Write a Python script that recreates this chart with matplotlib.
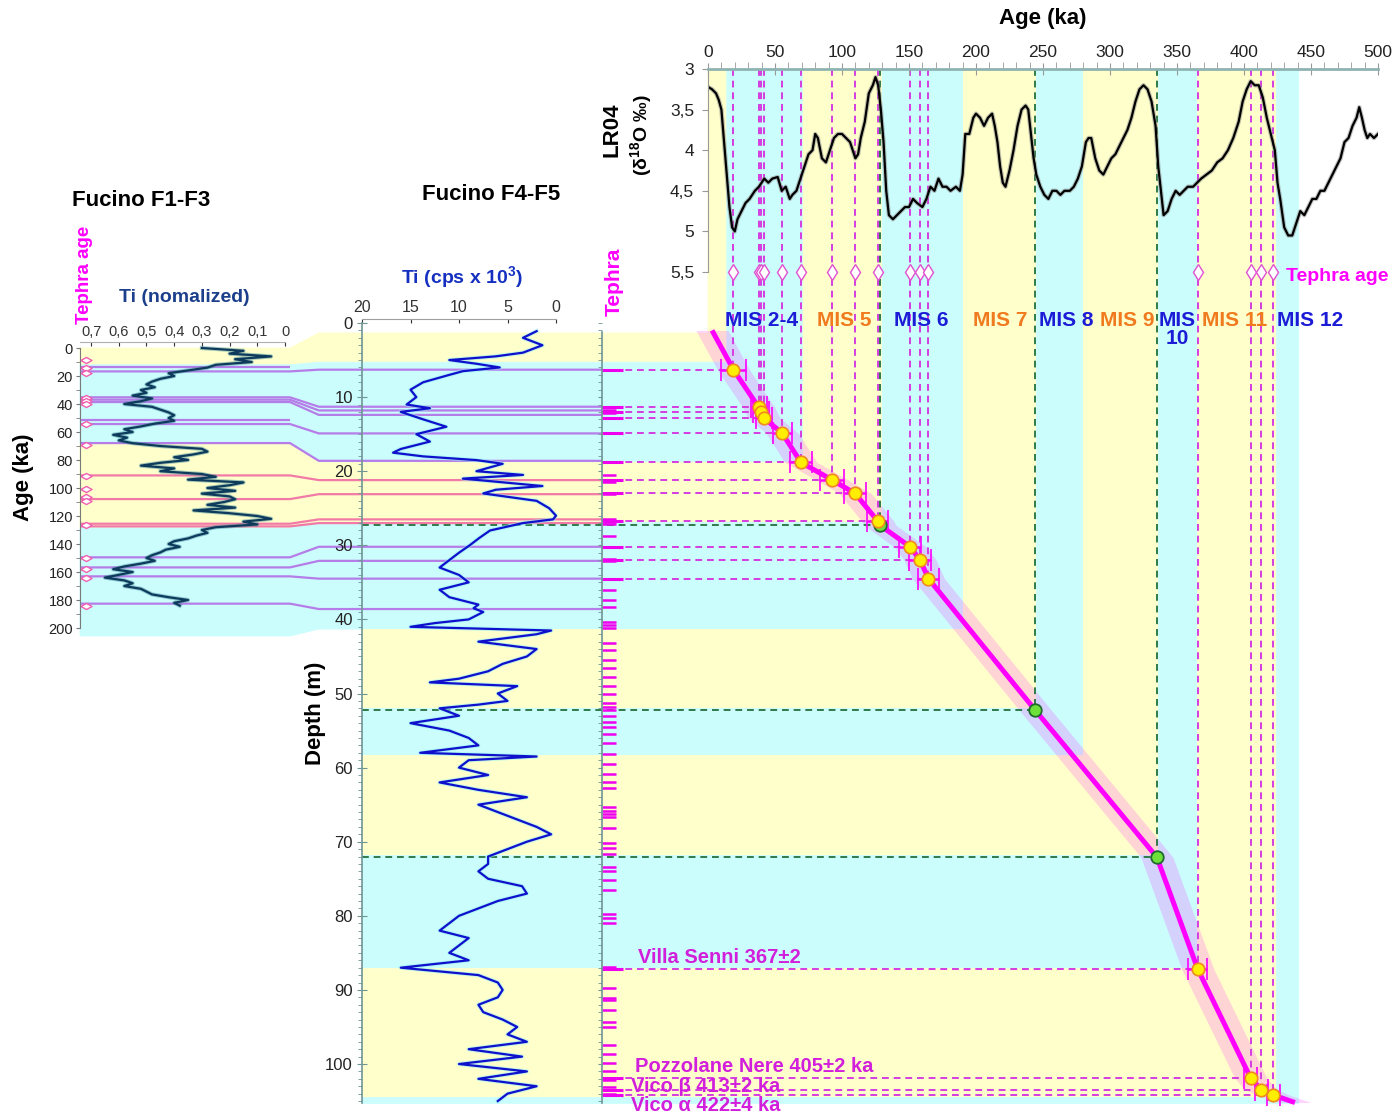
import numpy as np
import matplotlib
matplotlib.use("Agg")
import matplotlib.pyplot as plt
from matplotlib import transforms
from matplotlib.patches import Polygon
from matplotlib.ticker import MultipleLocator

plt.rcParams['font.family'] = ['Liberation Sans', 'DejaVu Sans']
plt.rcParams['mathtext.default'] = 'regular'
NARROW = ['Liberation Sans Narrow', 'Liberation Sans', 'DejaVu Sans']

W, H = 1397, 1115

# ---------------- data ----------------
# LR04 benthic stack
lr04_age = [0, 3, 6, 8, 10, 12, 14, 16, 18, 20, 22, 25, 28, 31, 35, 38, 42, 45, 48, 52, 55, 58, 61, 63, 66,
            70, 72, 75, 78, 80, 82, 85, 88, 91, 94, 97, 100, 103, 106, 108, 110, 112, 114, 117, 120, 123,
            125, 127, 129, 131, 133, 135, 138, 141, 144, 147, 150, 153, 156, 160, 163, 166, 169, 172, 175,
            178, 181, 185, 188, 190, 192, 195, 198, 200, 203, 206, 209, 212, 214, 216, 218, 220, 222, 225,
            228, 231, 234, 237, 239, 241, 243, 245, 248, 251, 254, 257, 260, 263, 266, 270, 273, 276, 279,
            282, 284, 286, 289, 292, 295, 298, 301, 304, 307, 310, 313, 316, 319, 322, 325, 328, 331, 334,
            336, 338, 340, 343, 346, 349, 352, 355, 358, 362, 365, 368, 372, 376, 380, 384, 388, 392, 396,
            399, 402, 405, 408, 411, 414, 417, 420, 423, 425, 427, 430, 433, 436, 439, 442, 445, 448, 451,
            454, 457, 460, 463, 466, 469, 472, 475, 478, 481, 484, 486, 488, 490, 492, 494, 497, 500]
lr04_d18o = [3.22, 3.25, 3.3, 3.38, 3.5, 3.9, 4.3, 4.7, 4.95, 5.0, 4.85, 4.75, 4.65, 4.6, 4.5, 4.45, 4.35,
             4.4, 4.35, 4.33, 4.5, 4.45, 4.6, 4.55, 4.5, 4.3, 4.2, 4.05, 4.0, 3.8, 3.85, 4.1, 4.15, 4.0,
             3.85, 3.8, 3.8, 3.85, 3.9, 4.0, 4.1, 4.05, 3.85, 3.65, 3.3, 3.2, 3.1, 3.2, 3.5, 3.9, 4.5, 4.8,
             4.85, 4.8, 4.75, 4.7, 4.7, 4.6, 4.65, 4.7, 4.6, 4.45, 4.5, 4.35, 4.45, 4.45, 4.5, 4.45, 4.5,
             4.3, 3.8, 3.8, 3.6, 3.55, 3.6, 3.7, 3.6, 3.55, 3.7, 3.9, 4.2, 4.4, 4.45, 4.25, 4.0, 3.7, 3.5,
             3.45, 3.5, 3.8, 4.1, 4.3, 4.45, 4.55, 4.6, 4.5, 4.5, 4.55, 4.5, 4.5, 4.45, 4.35, 4.2, 3.9,
             3.85, 3.85, 4.1, 4.25, 4.3, 4.2, 4.1, 4.05, 3.95, 3.85, 3.75, 3.6, 3.4, 3.25, 3.2, 3.25, 3.4,
             3.7, 4.2, 4.5, 4.8, 4.75, 4.6, 4.5, 4.55, 4.5, 4.45, 4.45, 4.4, 4.35, 4.3, 4.25, 4.15, 4.1,
             4.0, 3.85, 3.65, 3.4, 3.25, 3.15, 3.2, 3.2, 3.35, 3.6, 3.8, 4.0, 4.4, 4.6, 4.95, 5.05, 5.05,
             4.9, 4.75, 4.8, 4.7, 4.6, 4.6, 4.5, 4.5, 4.4, 4.3, 4.2, 4.1, 3.9, 3.85, 3.7, 3.6, 3.47, 3.6,
             3.75, 3.85, 3.8, 3.85, 3.8]

# Marine isotope stages: age range (ka), depth range in F4-F5 (m), F1-F3 age range
mis_age = [(0, 14), (14, 71), (71, 130), (130, 190), (190, 245), (245, 280), (280, 336), (336, 365),
           (365, 424), (424, 440)]
mis_depth = [(1.35, 5.3), (5.3, 18.8), (18.8, 26.9), (26.9, 41.3), (41.3, 52.0), (52.0, 58.3),
             (58.3, 71.8), (71.8, 87.0), (87.0, 104.4), (104.4, 105.26)]
mis_warm = [True, False, True, False, True, False, True, False, True, False]
f13_band_age = [(0, 12), (12, 68), (68, 128.5), (128.5, 205.7)]
mis_label = ['MIS 2-4', 'MIS 5', 'MIS 6', 'MIS 7', 'MIS 8', 'MIS 9', 'MIS\n10', 'MIS 11', 'MIS 12']
mis_label_age = [40, 102, 159, 218, 267, 313, 350, 393, 449]
mis_label_warm = [False, True, False, True, False, True, False, True, False]

# tephra ties (age ka, depth m, 1 sigma drawn)
tie_age = [19, 37.9, 39.8, 41.7, 55.5, 69.3, 92.8, 109.8, 126.5, 150.8, 158.3, 164.5, 365.5, 405, 413, 422]
tie_depth = [6.3, 11.4, 12.0, 12.8, 14.9, 18.8, 21.2, 23.0, 26.7, 30.2, 32.0, 34.5, 87.2, 101.9, 103.5, 104.2]
tie_err = [9, 6, 6, 6, 7, 8, 9, 8, 8, 8, 8, 8, 7, 5, 5, 5]
# LR04 tie points
lr_tie_age = [128.4, 244, 335]
lr_tie_depth = [27.3, 52.2, 72.1]
# age-depth model
model_age = [3, 19, 37.9, 41.7, 55.5, 69.3, 92.8, 109.8, 126.5, 128.4, 150.8, 158.3, 164.5, 244, 335,
             365.5, 405, 413, 422, 438]
model_depth = [1.0, 6.3, 11.4, 12.8, 14.9, 18.8, 21.2, 23.0, 26.7, 27.3, 30.2, 32.0, 34.5, 52.2, 72.1,
               87.2, 101.9, 103.5, 104.2, 105.2]
tephra_names = ['Villa Senni 367±2', 'Pozzolane Nere 405±2 ka', 'Vico β 413±2 ka', 'Vico α 422±4 ka']
tephra_name_depth = [85.6, 100.4, 103.0, 105.6]

# tephra layers in F4-F5 (depth m)
tephra_layers = [6.3, 11.3, 11.7, 12.2, 12.8, 14.9, 18.8, 20.5, 21.2, 21.5, 23.1, 26.5, 26.8, 27.1, 28.8,
                 30.2, 31.8, 32.1, 34.5, 36.0, 37.4, 38.3, 40.3, 40.8, 41.2, 43.2, 44.1, 45.5, 46.6, 47.8,
                 49.0, 50.0, 51.3, 51.8, 52.2, 53.1, 53.8, 54.5, 55.4, 56.7, 58.1, 59.5, 60.8, 61.9, 62.8,
                 65.3, 65.8, 66.3, 66.6, 68.2, 70.2, 70.9, 71.6, 73.4, 74.0, 75.2, 76.5, 79.7, 80.3, 81.0,
                 86.9, 87.2, 89.8, 91.1, 91.4, 92.7, 94.3, 95.0, 97.4, 98.6, 99.9, 101.0, 101.9, 102.2,
                 103.1, 103.5, 104.0, 104.2]

# F1-F3 tephra correlations (F1-F3 age ka -> F4-F5 depth m)
f13_tie_age = [13.8, 16.7, 35.2, 36.9, 38.6, 51.2, 54.3, 67.9, 91.0, 107.9, 125.5, 127.4, 149.5, 156.7,
               163.1, 182.6]
f13_tie_depth = [np.nan, 6.3, 11.3, 11.8, 12.4, np.nan, 14.9, 18.6, 21.2, 23.1, 26.5, 27.0, 30.2, 32.1,
                 34.5, 38.6]
f13_tephra_age = [8.6, 14, 17.5, 36, 38, 40, 54.5, 69, 91.5, 100.5, 106.5, 109, 126.5, 150, 157.5,
                  164.5, 184]

# Ti normalized, F1-F3
f13_age = list(range(0, 186, 2))
f13_ti = [0.30, 0.15, 0.20, 0.05, 0.18, 0.12, 0.25, 0.28, 0.35, 0.42, 0.40, 0.45, 0.48, 0.50, 0.47, 0.52,
          0.50, 0.55, 0.48, 0.52, 0.58, 0.48, 0.45, 0.42, 0.40, 0.42, 0.40, 0.47, 0.52, 0.58, 0.55, 0.62,
          0.57, 0.60, 0.55, 0.45, 0.30, 0.28, 0.33, 0.40, 0.35, 0.45, 0.52, 0.40, 0.45, 0.30, 0.25, 0.35,
          0.15, 0.20, 0.28, 0.18, 0.30, 0.20, 0.18, 0.22, 0.28, 0.18, 0.33, 0.20, 0.10, 0.05, 0.15, 0.10,
          0.25, 0.30, 0.28, 0.32, 0.35, 0.40, 0.42, 0.38, 0.43, 0.45, 0.48, 0.50, 0.47, 0.52, 0.58, 0.62,
          0.55, 0.60, 0.65, 0.58, 0.55, 0.58, 0.52, 0.50, 0.48, 0.42, 0.35, 0.40, 0.38]

# Ti counts (cps x 10^3), F4-F5
f45_depth = [1.1, 2, 3, 4, 4.5, 5, 5.5, 6, 6.5, 7, 8, 9, 10, 11, 11.5, 12, 13, 14, 15, 16, 17, 17.5, 18,
             18.5, 19, 20, 20.5, 21, 22, 22.5, 23, 24, 25, 26, 26.5, 27, 28, 29, 30, 31, 32, 33, 34, 35,
             36, 37, 38, 38.5, 39, 40, 40.5, 41, 41.5, 42, 43, 44, 45, 46, 47, 48, 48.5, 49, 50, 51, 51.5,
             52, 53, 54, 55, 56, 57, 58, 58.5, 59, 60, 61, 62, 63, 64, 65, 66, 67, 68, 69, 70, 71, 72, 73,
             74, 75, 76, 77, 78, 79, 80, 81, 82, 83, 84, 85, 86, 87, 88, 89, 90, 91, 92, 93, 94, 95, 96,
             97, 98, 99, 100, 101, 102, 103, 104, 105]
f45_ti = [2.0, 3.4, 1.4, 3.4, 6.2, 11.0, 8.2, 5.8, 9.6, 11.0, 13.7, 15.0, 14.4, 15.4, 13.0, 16.0, 13.7,
          11.3, 14.4, 13.0, 16.0, 16.8, 13.7, 8.2, 5.5, 8.2, 3.4, 9.6, 1.4, 6.2, 7.5, 2.0, 0.7, 0.0, 0.3,
          3.4, 6.8, 7.9, 8.9, 10.0, 11.0, 12.0, 10.0, 9.0, 12.0, 11.0, 8.0, 8.5, 7.5, 9.0, 12.5, 15.0, 0.5,
          2.0, 8.0, 2.0, 3.0, 5.5, 7.0, 10.0, 13.0, 4.0, 6.0, 5.0, 8.0, 12.0, 10.0, 15.0, 11.0, 9.0, 8.0,
          14.0, 2.0, 9.0, 10.0, 7.0, 12.0, 8.0, 3.0, 8.0, 6.0, 4.0, 2.0, 0.5, 3.0, 5.0, 7.0, 7.0, 8.0,
          7.0, 3.5, 3.0, 6.0, 8.0, 10.0, 11.0, 12.0, 9.0, 10.0, 11.0, 9.0, 16.0, 8.0, 6.0, 5.5, 6.0, 8.0,
          7.5, 5.5, 4.0, 5.0, 3.0, 9.0, 3.5, 10.0, 3.0, 8.0, 2.0, 5.0, 6.0]

# ---------------- colours ----------------
YEL = '#ffffcc'
CYA = '#ccfdfd'
MAG = '#ff00ff'
DASH_MAG = '#d43de0'
LILAC = '#b57de8'
PINK = '#f27aa6'
GREEN_D = '#2f7a4a'
BLUE_T = '#1c1cd6'
ORANGE_T = '#f07a1e'
SPINE = '#6f9595'

fig = plt.figure(figsize=(W / 100, H / 100), dpi=100)
fig.patch.set_facecolor('white')


def px_axes(l, t, r, b):
    ax = fig.add_axes([l / W, 1 - b / H, (r - l) / W, (b - t) / H])
    ax.patch.set_visible(False)
    return ax


def px(x, y):
    return x / W, 1 - y / H


ax_bg = fig.add_axes([0, 0, 1, 1])
ax_bg.set_xlim(0, W)
ax_bg.set_ylim(0, H)
ax_bg.axis('off')
ax_bg.set_zorder(0)

ax_left = px_axes(80, 342, 290, 636)
ax_mid = px_axes(362, 323, 556, 1103)
ax_teph = px_axes(602, 323, 708, 1103)
ax_ad = px_axes(708, 323, 1378, 1103)
ax_top = px_axes(708, 69, 1378, 323)
ax_left.set_zorder(1)
ax_ad.set_zorder(2)
ax_top.set_zorder(3)
ax_mid.set_zorder(4)
ax_teph.set_zorder(4)

DMAX = 105.26
ax_left.set_xlim(0.74, -0.018)
ax_left.set_ylim(205.7, -4.3)
ax_mid.set_xlim(20, 0)
ax_mid.set_ylim(DMAX, 0)
ax_teph.set_xlim(0, 1)
ax_teph.set_ylim(DMAX, 0)
ax_ad.set_xlim(0, 500)
ax_ad.set_ylim(DMAX, 0)
ax_top.set_xlim(0, 500)
ax_top.set_ylim(6.128, 3)

# ---------------- shaded stages (drawn across panels) ----------------
Lb = transforms.blended_transform_factory(ax_left.transAxes, ax_left.transData)
Mb = transforms.blended_transform_factory(ax_mid.transAxes, ax_mid.transData)
Tb = transforms.blended_transform_factory(ax_top.transData, ax_top.transAxes)
AD = ax_ad.transData
to_bg = ax_bg.transData.inverted()

x_lr = Lb.transform((1, 0))[0]
x_ml = Mb.transform((0, 0))[0]
x_s = x_lr + 0.4 * (x_ml - x_lr)
x_col = ax_teph.transAxes.transform((0, 0))[0]


def mid_y(d):
    return Mb.transform((0, d))[1]


for i, ((a1, a2), (d1, d2), warm) in enumerate(zip(mis_age, mis_depth, mis_warm)):
    col = YEL if warm else CYA
    pts = []
    if i < len(f13_band_age):
        L1, L2 = f13_band_age[i]
        pts += [Lb.transform((0, L1)), Lb.transform((1, L1)), (x_s, mid_y(d1))]
    else:
        pts.append(Mb.transform((0, d1)))
    pts += [AD.transform((a1, d1)), Tb.transform((a1, 1)), Tb.transform((a2, 1)), AD.transform((a2, d2))]
    if i < len(f13_band_age):
        pts += [(x_s, mid_y(d2)), Lb.transform((1, L2)), Lb.transform((0, L2))]
    else:
        pts.append(Mb.transform((0, d2)))
    ax_bg.add_patch(Polygon(to_bg.transform(np.array(pts)), closed=True, fc=col, ec=col, lw=0.6))

# F1-F3 -> F4-F5 tephra correlation lines
for a, d in zip(f13_tie_age, f13_tie_depth):
    warm = any(lo <= a <= hi for (lo, hi), w in zip(f13_band_age, mis_warm) if w)
    pts = [Lb.transform((0, a)), Lb.transform((1, a))]
    if not np.isnan(d):
        pts += [(x_s, mid_y(d)), (x_col, mid_y(d))]
    p = to_bg.transform(np.array(pts))
    ax_bg.plot(p[:, 0], p[:, 1], color=PINK if warm else LILAC, lw=1.6, solid_capstyle='butt')

# ---------------- left panel: Fucino F1-F3 ----------------
ax_left.plot(f13_ti, f13_age, color='#3c8a9a', lw=3.0, alpha=0.45)
ax_left.plot(f13_ti, f13_age, color='#0e3a5c', lw=1.6)
diamond = [(-1, 0), (0, 0.55), (1, 0), (0, -0.55), (-1, 0)]
ax_left.plot([0.72] * len(f13_tephra_age), f13_tephra_age, ls='none', marker=diamond, ms=8,
             mfc='white', mec='#f060b0', mew=1.0)
for s in ['right', 'bottom']:
    ax_left.spines[s].set_visible(False)
ax_left.spines['left'].set_bounds(0, 200)
ax_left.spines['left'].set_color('#7a7a7a')
ax_left.spines['top'].set_bounds(0.74, 0)
ax_left.spines['top'].set_color('#b0b0b0')
ax_left.xaxis.tick_top()
ax_left.set_xticks(np.arange(0, 0.71, 0.1))
ax_left.set_xticklabels(['0' if v == 0 else f'{v:.1f}'.replace('.', ',') for v in np.arange(0, 0.71, 0.1)])
ax_left.set_yticks(range(0, 201, 20))
ax_left.yaxis.set_minor_locator(MultipleLocator(10))
ax_left.tick_params(axis='x', direction='in', length=3, labelsize=10.5, pad=2, colors='#333333')
ax_left.tick_params(axis='y', which='both', direction='out', length=3, labelsize=10.5, pad=2,
                    color='#7a7a7a', labelcolor='#222222')
ax_left.text(-0.27, 0.54, 'Age (ka)', transform=ax_left.transAxes, rotation=90, ha='center', va='center',
             fontsize=16, fontweight='bold')
ax_left.text(0.02, 1.23, 'Tephra age', transform=ax_left.transAxes, rotation=90, ha='center',
             va='center', fontsize=13.5, fontweight='bold', color=MAG)
ax_left.text(0.495, 1.153, 'Ti (nomalized)', transform=ax_left.transAxes, ha='center', va='center',
             fontsize=14, fontweight='bold', color='#1c3f8c')
fig.text(*px(72, 200), 'Fucino F1-F3', ha='left', va='center', fontsize=16, fontweight='bold')

# ---------------- middle panel: Fucino F4-F5 ----------------
ax_mid.plot(f45_ti, f45_depth, color='#8ff0f5', lw=3, alpha=0.55, clip_on=False)
ax_mid.plot(f45_ti, f45_depth, color='#1010cc', lw=1.6, clip_on=False)
for s in ['right', 'bottom']:
    ax_mid.spines[s].set_visible(False)
ax_mid.spines['left'].set_color(SPINE)
ax_mid.spines['left'].set_linewidth(1.2)
ax_mid.spines['top'].set_position(('outward', 3))
ax_mid.spines['top'].set_bounds(20, 0)
ax_mid.spines['top'].set_color('#a0a0a0')
ax_mid.xaxis.tick_top()
ax_mid.set_xticks([20, 15, 10, 5, 0])
ax_mid.set_yticks(range(0, 101, 10))
ax_mid.yaxis.set_minor_locator(MultipleLocator(1))
ax_mid.tick_params(axis='x', direction='in', length=3, labelsize=11.5, pad=3, colors='#333333')
ax_mid.tick_params(axis='y', which='major', direction='inout', length=7, labelsize=12, pad=3,
                   color=SPINE, labelcolor='#222222')
ax_mid.tick_params(axis='y', which='minor', direction='out', length=3, color=SPINE)
ax_mid.text(-0.24, 0.5, 'Depth (m)', transform=ax_mid.transAxes, rotation=90, ha='center', va='center',
            fontsize=16, fontweight='bold')
fig.text(*px(462, 277), 'Ti (cps x 10$^3$)', ha='center', va='center', fontsize=14, fontweight='bold',
         color='#1530c0')
fig.text(*px(422, 194), 'Fucino F4-F5', ha='left', va='center', fontsize=16, fontweight='bold')

# tephra column
ax_teph.hlines(tephra_layers, 0, 0.13, color='#ee00ee', lw=1.8)
ax_teph.hlines(tie_depth, 0, 0.2, color='#ee00ee', lw=2.2)
for s in ['right', 'bottom', 'top']:
    ax_teph.spines[s].set_visible(False)
ax_teph.spines['left'].set_bounds(1.2, DMAX)
ax_teph.spines['left'].set_color(SPINE)
ax_teph.spines['left'].set_linewidth(1.2)
ax_teph.set_xticks([])
ax_teph.set_yticks(range(10, 101, 10))
ax_teph.set_yticklabels([])
ax_teph.yaxis.set_minor_locator(MultipleLocator(1))
ax_teph.tick_params(axis='y', which='both', direction='out', length=3, color=SPINE)
fig.text(*px(614, 282), 'Tephra', rotation=90, ha='center', va='center', fontsize=15, fontweight='bold',
         color=MAG)

# ---------------- age-depth model ----------------
ax_ad.axis('off')
depth_top = AD.inverted().transform(Tb.transform((0, 1)))[1]
dash = (0, (3.5, 2.5))
ax_ad.vlines(tie_age, depth_top, tie_depth, colors=DASH_MAG, lw=1.4, linestyles=dash, clip_on=False)
col_age = AD.inverted().transform((x_col, 0))[0]
ax_ad.hlines(tie_depth, col_age, tie_age, colors=DASH_MAG, lw=1.4, linestyles=dash, clip_on=False)
ax_ad.vlines(lr_tie_age, depth_top, lr_tie_depth, colors=GREEN_D, lw=1.4, linestyles=dash, clip_on=False)
mid_age = AD.inverted().transform((x_ml, 0))[0]
ax_ad.hlines(lr_tie_depth, mid_age, lr_tie_age, colors=GREEN_D, lw=1.4, linestyles=dash, clip_on=False)

m_age = np.array(model_age)
ax_ad.fill_betweenx(model_depth, m_age - 12, m_age + 12, color=MAG, alpha=0.17, lw=0, clip_on=False)
ax_ad.plot(model_age, model_depth, color=MAG, lw=3.6, clip_on=False, solid_capstyle='butt')
ax_ad.errorbar(tie_age, tie_depth, xerr=tie_err, fmt='o', ms=9, mfc='#ffee00', mec='#f08a20', mew=1.2,
               ecolor=MAG, elinewidth=1.8, capsize=8, capthick=1.8, clip_on=False, zorder=5)
ax_ad.plot(lr_tie_age, lr_tie_depth, 'o', ms=9, mfc='#6ee03a', mec='#1f6b2f', mew=1.3, clip_on=False,
           zorder=5)
name_tr = transforms.blended_transform_factory(ax_teph.transAxes, ax_ad.transData)
for name, d, xf in zip(tephra_names, tephra_name_depth, [0.34, 0.31, 0.27, 0.27]):
    ax_ad.text(xf, d, name, transform=name_tr, ha='left', va='center', fontsize=14.5, fontweight='bold',
               color='#d21fdc', family=NARROW)

# ---------------- LR04 ----------------
ax_top.plot(lr04_age, lr04_d18o, color='#888888', lw=3.2, alpha=0.5)
ax_top.plot(lr04_age, lr04_d18o, color='black', lw=1.6)
ax_top.plot(tie_age, [5.5] * len(tie_age), ls='none', marker='d', ms=8, mfc='white', mec='#e050d0', mew=1.0)
for s in ['right', 'bottom']:
    ax_top.spines[s].set_visible(False)
ax_top.spines['left'].set_bounds(3, 5.5)
ax_top.spines['left'].set_color('#999999')
ax_top.spines['top'].set_color('#8fb3b3')
ax_top.spines['top'].set_linewidth(2)
ax_top.xaxis.tick_top()
ax_top.set_xticks(range(0, 501, 50))
ax_top.xaxis.set_minor_locator(MultipleLocator(10))
ax_top.tick_params(axis='x', which='major', direction='inout', length=9, labelsize=12.5, pad=2,
                   color='#999999', labelcolor='#222222')
ax_top.tick_params(axis='x', which='minor', direction='out', length=5, color='#999999')
yt = [3, 3.5, 4, 4.5, 5, 5.5]
ax_top.set_yticks(yt)
ax_top.set_yticklabels([f'{v:g}'.replace('.', ',') for v in yt])
ax_top.tick_params(axis='y', direction='out', length=4, labelsize=12.5, pad=6, color='#999999',
                   labelcolor='#222222')
ax_top.text(0.5, 1.2, 'Age (ka)', transform=ax_top.transAxes, ha='center', va='center', fontsize=16,
            fontweight='bold')
ax_top.text(-0.143, 0.76, 'LR04', transform=ax_top.transAxes, rotation=90, ha='center', va='center',
            fontsize=16, fontweight='bold')
ax_top.text(-0.1, 0.74, '(δ$^{18}$O ‰)', transform=ax_top.transAxes, rotation=90, ha='center',
            va='center', fontsize=14, fontweight='bold')
ax_top.text(431, 5.55, 'Tephra age', ha='left', va='center', fontsize=14, fontweight='bold', color=MAG)
for lab, a, warm in zip(mis_label, mis_label_age, mis_label_warm):
    ax_top.text(a, 5.98, lab, ha='center', va='top', fontsize=15, fontweight='bold', linespacing=0.95,
                color=ORANGE_T if warm else BLUE_T, family=NARROW)

fig.savefig('out.png', dpi=100)
